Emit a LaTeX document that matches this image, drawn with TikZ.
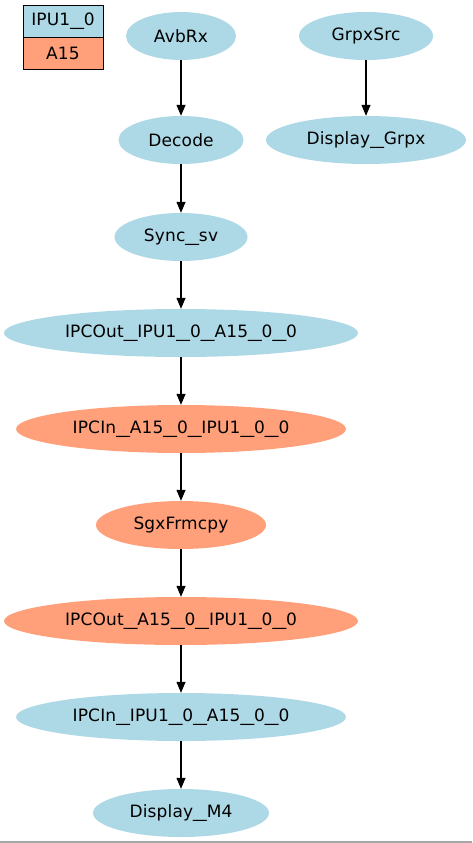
\documentclass[tikz,border=0pt]{standalone}
\usepackage{fontspec}
\usepackage{graphicx}
\setmainfont[LetterSpace=1]{DejaVu Sans}
\usetikzlibrary{shapes.geometric,arrows.meta}
\definecolor{ipublue}{HTML}{ADD8E6}
\definecolor{asalmon}{HTML}{FFA07A}
\newcommand\usc{\scalebox{1.6}[1]{\_}}
\tikzset{
  ipu/.style={ellipse, fill=ipublue, inner sep=0pt, minimum height=48pt},
  afifteen/.style={ellipse, fill=asalmon, inner sep=0pt, minimum height=48pt},
  legbox/.style={draw, line width=0.8pt, minimum width=80pt, minimum height=32pt, inner sep=0pt},
  >={Triangle[length=11pt,width=9pt]}
}
\begin{document}
\begin{tikzpicture}[font=\fontsize{17}{20}\selectfont, x=1pt, y=-1pt]
\useasboundingbox (0,0) rectangle (472,843);

% legend
\node[legbox, fill=ipublue] (legipu) at (63,21) {IPU1\usc0};
\node[legbox, fill=asalmon] (legafifteen) at (63,53) {A15};

% graphics branch
\node[ipu, minimum width=134pt] (grpxsrc) at (366,36) {GrpxSrc};
\node[ipu, minimum width=200pt] (dispgrpx) at (366,140) {Display\usc Grpx};

% video chain
\node[ipu, minimum width=110pt] (avbrx) at (181,36) {AvbRx};
\node[ipu, minimum width=125pt] (decode) at (181,140) {Decode};
\node[ipu, minimum width=133pt] (syncsv) at (181,237) {Sync\usc sv};
\node[ipu, minimum width=354pt] (ipcoutipu) at (181,333) {IPCOut\usc IPU1\usc0\usc A15\usc0\usc0};
\node[afifteen, minimum width=330pt] (ipcina) at (181,429) {IPCIn\usc A15\usc0\usc IPU1\usc0\usc0};
\node[afifteen, minimum width=170pt] (sgx) at (181,525) {SgxFrmcpy};
\node[afifteen, minimum width=354pt] (ipcouta) at (181,621) {IPCOut\usc A15\usc0\usc IPU1\usc0\usc0};
\node[ipu, minimum width=330pt] (ipcinipu) at (181,717) {IPCIn\usc IPU1\usc0\usc A15\usc0\usc0};
\node[ipu, minimum width=176pt] (dispmf) at (181,813) {Display\usc M4};

\foreach \a/\b in {grpxsrc/dispgrpx, avbrx/decode, decode/syncsv, syncsv/ipcoutipu,
  ipcoutipu/ipcina, ipcina/sgx, sgx/ipcouta, ipcouta/ipcinipu, ipcinipu/dispmf}
\draw[->, line width=1.1pt] (\a) -- (\b);

\draw[gray!70, line width=1.2pt] (0,842) -- (472,842);
\end{tikzpicture}
\end{document}
